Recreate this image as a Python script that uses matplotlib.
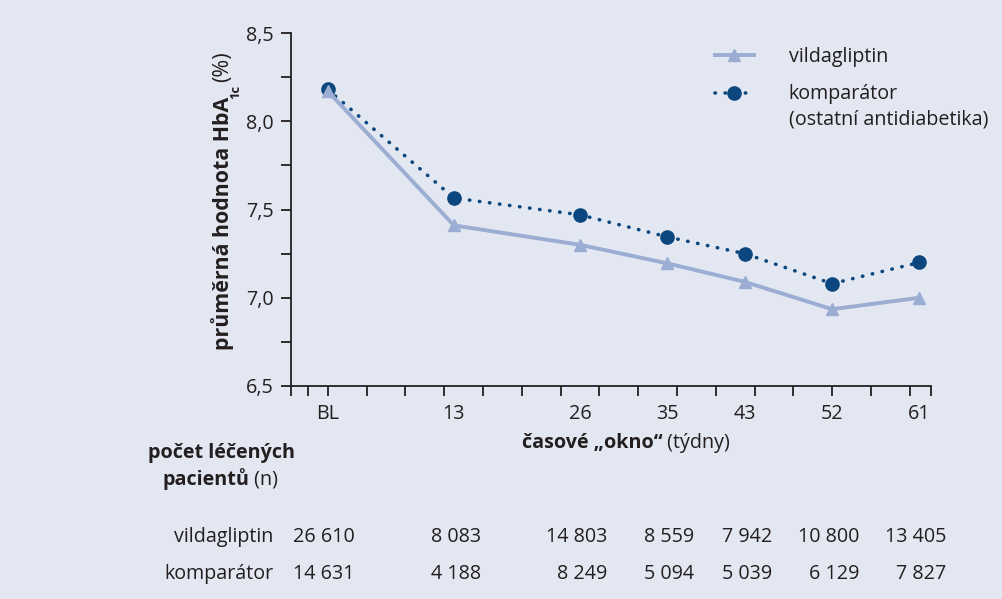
import matplotlib
matplotlib.use('Agg')
import matplotlib.pyplot as plt
from matplotlib.lines import Line2D
from matplotlib.ticker import FixedLocator, FuncFormatter, NullFormatter

plt.rcParams['font.family'] = ['Open Sans', 'DejaVu Sans']

# data
weeks = [0, 13, 26, 35, 43, 52, 61]
week_labels = ['BL', '13', '26', '35', '43', '52', '61']
vilda_hba1c = [8.17, 7.41, 7.30, 7.195, 7.09, 6.935, 7.00]
komp_hba1c = [8.18, 7.565, 7.47, 7.345, 7.25, 7.08, 7.20]
vilda_n = ['26 610', '8 083', '14 803', '8 559', '7 942', '10 800', '13 405']
komp_n = ['14 631', '4 188', '8 249', '5 094', '5 039', '6 129', '7 827']
row_names = ['vildagliptin', 'komparátor']

W, H = 1002, 599
bg = '#e3e7f1'
ink = '#231f20'
c_vilda = '#9badd2'
c_komp = '#0b467e'
fs = 14.2
fs_ylab = 15.4

fig = plt.figure(figsize=(W / 100, H / 100), dpi=100, facecolor=bg)
ax = fig.add_axes([291 / W, 1 - 386 / H, 640 / W, 353 / H], facecolor=bg)

ax.plot(weeks, komp_hba1c, color=c_komp, lw=2.6, ls=(0, (0.1, 2.7)),
        dash_capstyle='round', marker='o', ms=9.5, zorder=3, clip_on=False)
ax.plot(weeks, vilda_hba1c, color=c_vilda, lw=2.8, marker='^', ms=8.5,
        zorder=4, clip_on=False)

ax.set_xlim(-3.8, 62.2)
ax.set_ylim(6.5, 8.5)
for s in ['top', 'right']:
    ax.spines[s].set_visible(False)
for s in ['left', 'bottom']:
    ax.spines[s].set_color(ink)
    ax.spines[s].set_linewidth(1.3)

# x: tick marks on a 4-week grid, labels at the measurement windows
ax.xaxis.remove_overlapping_locs = False
ax.xaxis.set_minor_locator(FixedLocator([-3.8, -2] + list(range(0, 61, 4)) + [62.2]))
ax.xaxis.set_major_locator(FixedLocator(weeks))
ax.set_xticklabels(week_labels)
ax.xaxis.set_minor_formatter(NullFormatter())
ax.tick_params(axis='x', which='major', length=0, pad=13, labelsize=fs, colors=ink)
ax.tick_params(axis='x', which='minor', length=7.5, width=1.3, color=ink, direction='out')

ax.yaxis.set_major_locator(FixedLocator([6.5, 7.0, 7.5, 8.0, 8.5]))
ax.yaxis.set_minor_locator(FixedLocator([6.75, 7.25, 7.75, 8.25]))
ax.yaxis.set_major_formatter(FuncFormatter(lambda v, p: f'{v:.1f}'.replace('.', ',')))
ax.tick_params(axis='y', which='both', length=7.5, width=1.3, color=ink, direction='out')
ax.tick_params(axis='y', which='major', pad=5, labelsize=fs, colors=ink)

# legend
handles = [
    Line2D([], [], color=c_vilda, lw=2.8, marker='^', ms=8.5),
    Line2D([], [], color=c_komp, lw=2.6, ls=(0, (0.1, 2.7)), dash_capstyle='round',
           marker='o', ms=9.5),
]
leg = fig.legend(handles, ['vildagliptin', 'komparátor'], loc='upper left',
                 bbox_to_anchor=(697 / W, 1 - 29 / H), frameon=False, fontsize=fs,
                 handlelength=2.0, handletextpad=1.75, labelspacing=0.9)
for t in leg.get_texts():
    t.set_color(ink)

fig.canvas.draw()
renderer = fig.canvas.get_renderer()


def px(x, y):
    # pixel coords from the top-left corner to figure fraction
    return x / W, 1 - y / H


def text_run(x, y, parts, **kw):
    # write bold/regular pieces one after another on one line
    for s, weight in parts:
        t = fig.text(*px(x, y), s, fontsize=fs, fontweight=weight, color=ink,
                     ha='left', va='center', **kw)
        bb = t.get_window_extent(renderer)
        x += bb.width


# continuation line of the comparator legend entry
bb = leg.get_texts()[1].get_window_extent(renderer)
fig.text(bb.x0 / W, (bb.y0 - 15) / H, '(ostatní antidiabetika)', fontsize=fs,
         color=ink, ha='left', va='center')

# y-axis label: bold part, subscript, regular part
t1 = fig.text(*px(223, 350), 'průměrná hodnota HbA', fontsize=fs_ylab, fontweight='bold',
              color=ink, rotation=90, ha='center', va='bottom')
bb1 = t1.get_window_extent(renderer)
t2 = fig.text((bb1.x1 + 1) / W, (bb1.y1 - 2) / H, '1c', fontsize=fs_ylab * 0.6,
              fontweight='bold', color=ink, rotation=90, ha='center', va='bottom')
bb2 = t2.get_window_extent(renderer)
fig.text(bb1.x0 / W + (bb1.width / 2) / W, (bb2.y1 + 3) / H, '(%)', fontsize=fs_ylab,
         color=ink, rotation=90, ha='center', va='bottom')

# x-axis label
text_run(522, 443, [('časové „okno“', 'bold'), (' (týdny)', 'normal')])

# patient counts block
fig.text(*px(222, 453), 'počet léčených', fontsize=fs, fontweight='bold', color=ink,
         ha='center', va='center')
text_run(162, 479, [('pacientů', 'bold'), (' (n)', 'normal')])

for row_y, name, counts in [(537, row_names[0], vilda_n), (574, row_names[1], komp_n)]:
    fig.text(*px(273, row_y), name, fontsize=fs, color=ink, ha='right', va='center')
    for wk, n in zip(weeks, counts):
        xpix = ax.transData.transform((wk, 7.0))[0] + 27
        fig.text(xpix / W, 1 - row_y / H, n, fontsize=fs, color=ink, ha='right', va='center')

fig.savefig('out.png', dpi=100, facecolor=bg)
